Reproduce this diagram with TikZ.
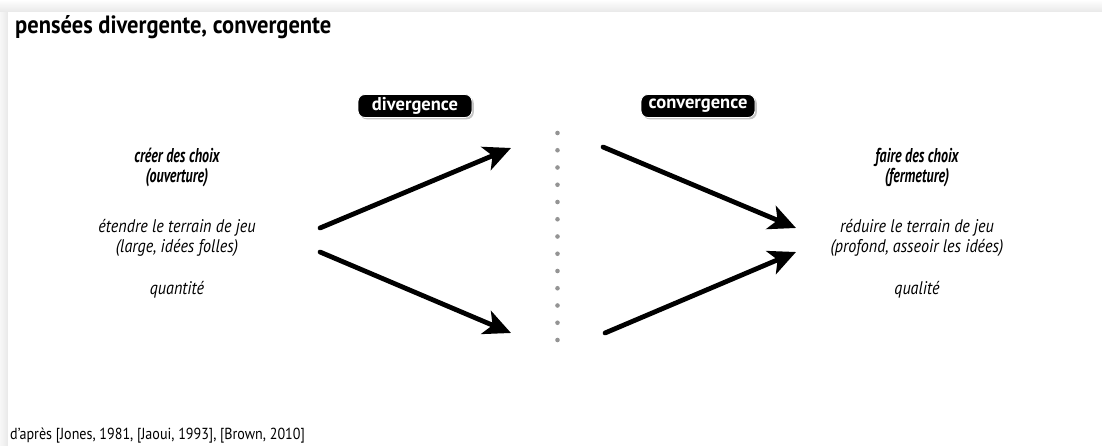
\documentclass[tikz,border=0pt]{standalone}
\usepackage{fontspec}
\setmainfont{PT Sans}[FakeStretch=0.88]
\newfontfamily\titlefont{PT Sans}[FakeStretch=0.9]
\newfontfamily\tagfont{PT Sans}[FakeStretch=1.0]
\newfontfamily\headfont{PT Sans}[FakeStretch=0.7]
\usetikzlibrary{arrows.meta,shadows}
\tikzset{
  bigarrow/.style={line width=4.8pt, black, line cap=round,
    -{Stealth[length=27pt,width=25pt,inset=7pt]}},
  tag/.style={fill=black, draw=white, line width=0.8pt, rounded corners=7pt,
    text=white, font=\tagfont\bfseries\fontsize{18.5}{19}\selectfont,
    minimum width=114pt, minimum height=23pt, inner sep=0pt,
    drop shadow={shadow xshift=1.8pt, shadow yshift=-1.8pt, opacity=0.45}},
  headtxt/.style={align=center, font=\headfont\bfseries\itshape\fontsize{20}{20}\selectfont},
  bodytxt/.style={align=center, font=\itshape\fontsize{18.3}{20}\selectfont},
  sepdot/.style={fill=black!42},
}
\begin{document}
\begin{tikzpicture}[x=1pt,y=-1pt]
\useasboundingbox (0,0) rectangle (1102,446);
% page shadow
\shade[left color=black!3, right color=black!9] (0,0) rectangle (8,446);
\shade[top color=white, bottom color=black!9] (0,0) rectangle (1102,12);
\fill[white] (8,12) rectangle (1102,446);

\node[anchor=base west, inner sep=0pt, font=\titlefont\bfseries\fontsize{25}{26}\selectfont] (title) at (15,34) {pensées divergente, convergente};

\node[tag] (div) at (415,106) {divergence};
\node[tag] (conv) at (698,106) {convergence};

% left block
\node[headtxt] (l1) at (177,168) {créer des choix\\(ouverture)};
\node[bodytxt] (l2) at (177,238) {étendre le terrain de jeu\\(large, idées folles)};
\node[bodytxt] (l3) at (177,290) {quantité};

% right block
\node[headtxt] (r1) at (917,168) {faire des choix\\(fermeture)};
\node[bodytxt] (r2) at (917,238) {réduire le terrain de jeu\\(profond, asseoir les idées)};
\node[bodytxt] (r3) at (917,290) {qualité};

% separator dots
\foreach \i in {0,...,12}
  \fill[sepdot] (557.5,133+\i*17.25) circle (2.3pt);

% arrow ends
\coordinate (a1s) at (320,228); \coordinate (a1e) at (511,148);
\coordinate (a2s) at (320,252); \coordinate (a2e) at (511,333);
\coordinate (a3s) at (603,147); \coordinate (a3e) at (796,228);
\coordinate (a4s) at (605,333); \coordinate (a4e) at (796,252);
\draw[bigarrow] (a1s) -- (a1e);
\draw[bigarrow] (a2s) -- (a2e);
\draw[bigarrow] (a3s) -- (a3e);
\draw[bigarrow] (a4s) -- (a4e);

\node[anchor=base west, inner sep=0pt, font=\fontsize{16}{18}\selectfont] (src) at (10,439) {d’après [Jones, 1981, [Jaoui, 1993], [Brown, 2010]};
\end{tikzpicture}
\end{document}
